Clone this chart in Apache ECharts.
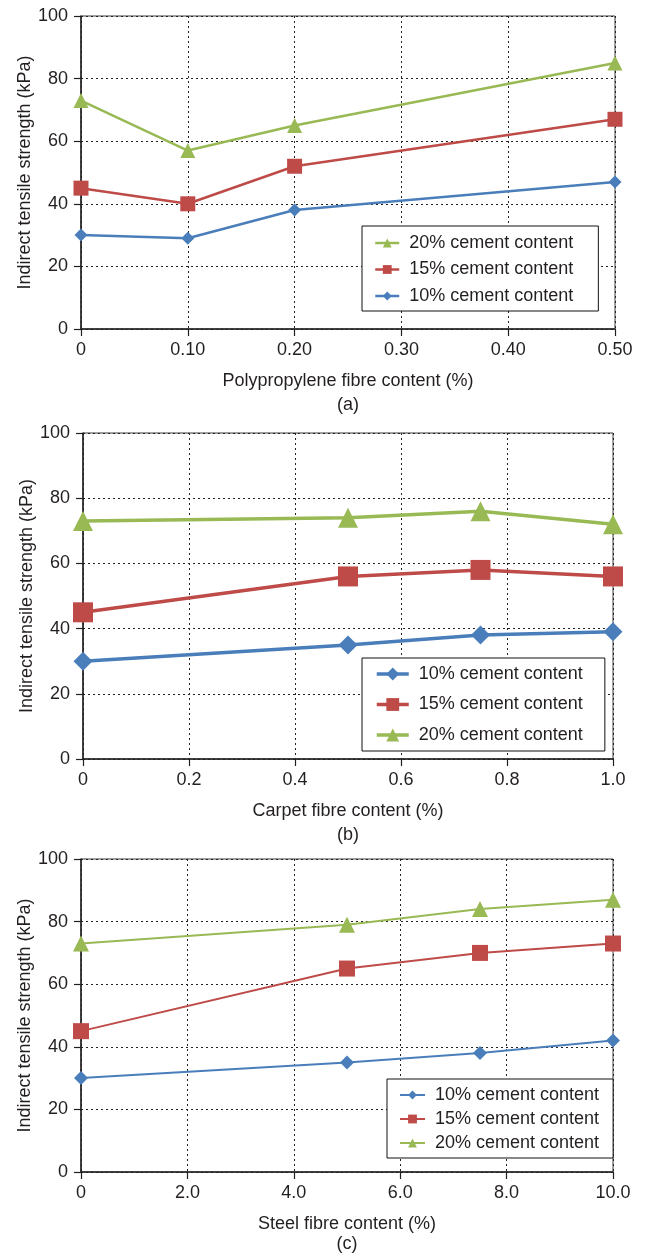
<!DOCTYPE html>
<html>
<head>
<meta charset="utf-8">
<script src="https://cdn.jsdelivr.net/npm/echarts@6/dist/echarts.min.js"></script>
<style>
html,body{margin:0;padding:0;background:#fff;}
#chart{width:647px;height:1254px;}
</style>
</head>
<body>
<div id="chart"></div>
<script>
// ---- data ----
const seriesNames = ['10% cement content', '15% cement content', '20% cement content'];

const xA = [0, 0.1, 0.2, 0.5];
const a10 = [30, 29, 38, 47];
const a15 = [45, 40, 52, 67];
const a20 = [73, 57, 65, 85];

const xB = [0, 0.5, 0.75, 1.0];
const b10 = [30, 35, 38, 39];
const b15 = [45, 56, 58, 56];
const b20 = [73, 74, 76, 72];

const xC = [0, 5, 7.5, 10];
const c10 = [30, 35, 38, 42];
const c15 = [45, 65, 70, 73];
const c20 = [73, 79, 84, 87];

const xTicksA = ['0', '0.10', '0.20', '0.30', '0.40', '0.50'];
const xTicksB = ['0', '0.2', '0.4', '0.6', '0.8', '1.0'];
const xTicksC = ['0', '2.0', '4.0', '6.0', '8.0', '10.0'];
const yTicks = ['0', '20', '40', '60', '80', '100'];

const xNames = ['Polypropylene fibre content (%)', 'Carpet fibre content (%)', 'Steel fibre content (%)'];
const captions = ['(a)', '(b)', '(c)'];
const yName = 'Indirect tensile strength (kPa)';

// ---- styles ----
const FONT = 'Liberation Sans';
const TXT = '#231f20';
const colors = ['#4a7ebb', '#be4b48', '#98b954'];
const symbols = ['diamond', 'rect', 'triangle'];

const panels = [
  {x: xA, ys: [a10, a15, a20], ticks: xTicksA, max: 0.5, interval: 0.1,
   grid: {left: 81, top: 16, width: 534, height: 313},
   sizes: [13, 15, 15], lw: 2.5,
   legend: {left: 362, top: 226, order: [2, 1, 0], itemWidth: 24, itemHeight: 11, itemGap: 8.5, padding: [8, 25, 6, 12], lw: 2.5},
   capY: 405},
  {x: xB, ys: [b10, b15, b20], ticks: xTicksB, max: 1.0, interval: 0.2,
   grid: {left: 83, top: 433, width: 530, height: 326},
   sizes: [19, 20, 20], lw: 3.5,
   legend: {left: 362, top: 658, order: [0, 1, 2], itemWidth: 32, itemHeight: 16, itemGap: 12.5, padding: [7, 22, 7, 13], lw: 3.5},
   capY: 835},
  {x: xC, ys: [c10, c15, c20], ticks: xTicksC, max: 10, interval: 2,
   grid: {left: 81, top: 859, width: 532, height: 313},
   sizes: [14, 16, 16], lw: 2,
   legend: {left: 387, top: 1079, order: [0, 1, 2], itemWidth: 25, itemHeight: 11, itemGap: 6, padding: [7, 14, 6, 12], lw: 2},
   capY: 1244}
];

const option = {
  animation: false,
  backgroundColor: '#fff',
  textStyle: {fontFamily: FONT, color: TXT},
  grid: [], xAxis: [], yAxis: [], series: [], legend: [], graphic: []
};

panels.forEach((p, i) => {
  option.grid.push(Object.assign({show: true, borderColor: '#3a3a3a', borderWidth: 1, backgroundColor: 'transparent'}, p.grid));
  option.xAxis.push({
    type: 'value', gridIndex: i, min: 0, max: p.max, interval: p.interval,
    name: xNames[i], nameLocation: 'middle', nameGap: 43, nameMoveOverlap: false,
    nameTextStyle: {fontFamily: FONT, fontSize: 18, color: TXT},
    axisLine: {show: true, onZero: false, lineStyle: {color: TXT, width: 1.5}},
    axisTick: {show: true, length: 7, lineStyle: {color: TXT, width: 1.2}},
    axisLabel: {fontFamily: FONT, fontSize: 18, color: TXT, margin: 12,
      formatter: v => p.ticks[Math.round(v / p.interval)]},
    splitLine: {show: true, lineStyle: {color: '#222', width: 1, type: [2, 3]}}
  });
  option.yAxis.push({
    type: 'value', gridIndex: i, min: 0, max: 100, interval: 20,
    name: yName, nameLocation: 'middle', nameGap: 47, nameMoveOverlap: false,
    nameTextStyle: {fontFamily: FONT, fontSize: 18, color: TXT},
    axisLine: {show: true, lineStyle: {color: TXT, width: 1.5}},
    axisTick: {show: true, length: 7, lineStyle: {color: TXT, width: 1.2}},
    axisLabel: {fontFamily: FONT, fontSize: 18, color: TXT, margin: 13,
      formatter: v => yTicks[Math.round(v / 20)]},
    splitLine: {show: true, lineStyle: {color: '#222', width: 1, type: [2, 3]}}
  });
  p.ys.forEach((vals, k) => {
    option.series.push({
      type: 'line', name: seriesNames[k], xAxisIndex: i, yAxisIndex: i,
      data: p.x.map((xv, j) => [xv, vals[j]]),
      symbol: symbols[k], symbolSize: p.sizes[k], showAllSymbol: true,
      lineStyle: {color: colors[k], width: p.lw},
      itemStyle: {color: colors[k]},
      z: 3 + k
    });
  });
  const L = p.legend;
  option.legend.push({
    orient: 'vertical', left: L.left, top: L.top,
    itemWidth: L.itemWidth, itemHeight: L.itemHeight, itemGap: L.itemGap,
    padding: L.padding, borderColor: '#111', borderWidth: 1, backgroundColor: '#fff',
    selectedMode: false,
    textStyle: {fontFamily: FONT, fontSize: 18, color: TXT, padding: [0, 0, 0, 5]},
    data: L.order.map(k => ({name: seriesNames[k],
      itemStyle: {color: colors[k]}, lineStyle: {color: colors[k], width: L.lw}}))
  });
  const cx = p.grid.left + p.grid.width / 2;
  option.graphic.push({type: 'text', x: cx, y: p.capY,
    style: {text: captions[i], align: 'center', verticalAlign: 'middle',
      font: '18px "' + FONT + '"', fill: TXT}});
});

const chart = echarts.init(document.getElementById('chart'), null, {renderer: 'canvas'});
chart.setOption(option);
</script>
</body>
</html>
